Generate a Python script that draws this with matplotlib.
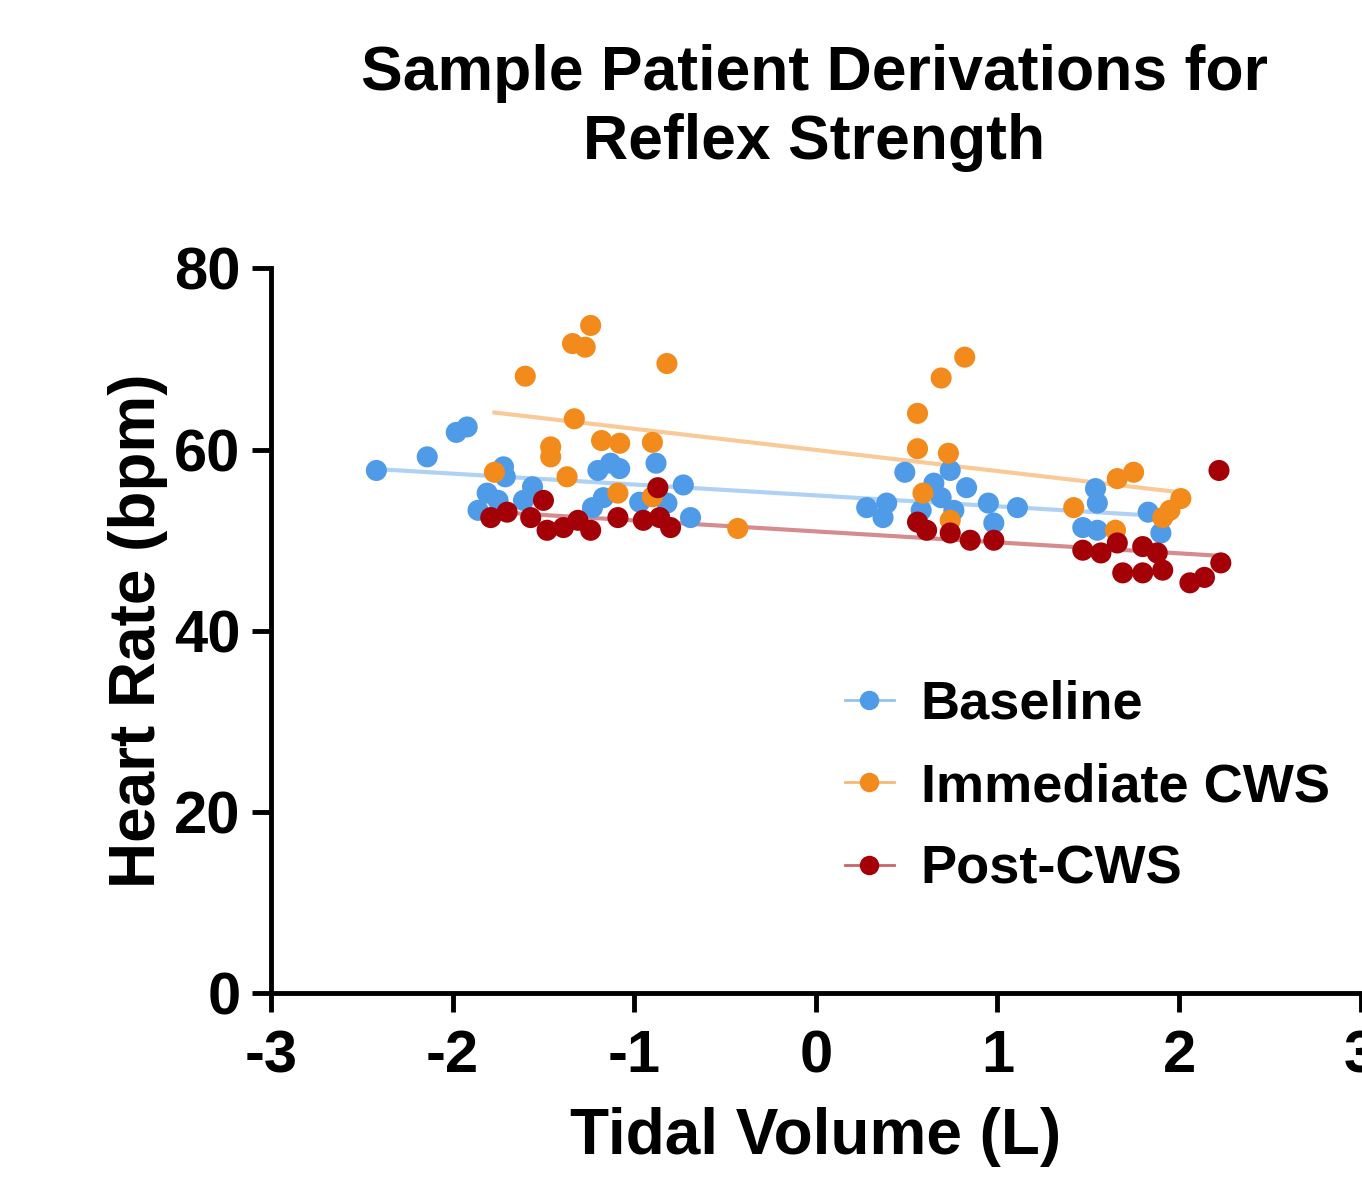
import numpy as np
import matplotlib
matplotlib.use("Agg")
import matplotlib.pyplot as plt
from matplotlib.colors import to_rgba
from matplotlib.ticker import FuncFormatter

plt.rcParams["font.family"] = ["Liberation Sans", "DejaVu Sans"]
plt.rcParams["font.weight"] = "bold"
plt.rcParams["axes.unicode_minus"] = False

# Baseline
base_x = [-2.42, -2.14, -1.98, -1.92, -1.72, -1.71, -1.81, -1.86, -1.75, -1.61,
          -1.56, -1.20, -1.13, -1.08, -0.88, -1.23, -1.17, -0.97, -0.82, -0.73,
          -0.69, 0.49, 0.28, 0.39, 0.37, 0.65, 0.74, 0.83, 0.69, 0.58, 0.76,
          0.95, 0.98, 1.11, 1.54, 1.55, 1.47, 1.55, 1.83, 1.90]
base_y = [57.7, 59.2, 61.9, 62.5, 58.1, 57.0, 55.2, 53.3, 54.4, 54.4,
          55.9, 57.7, 58.5, 57.9, 58.5, 53.6, 54.7, 54.2, 54.1, 56.1,
          52.5, 57.5, 53.6, 54.1, 52.5, 56.3, 57.7, 55.8, 54.7, 53.3, 53.3,
          54.1, 51.9, 53.6, 55.7, 54.1, 51.4, 51.1, 53.1, 50.8]

# Immediate CWS
imm_x = [-1.24, -1.34, -1.27, -0.82, -1.60, -1.33, -1.18, -1.08, -0.90, -1.46,
         -1.46, -1.37, -0.43, -1.09, -0.90, -1.77, 0.82, 0.69, 0.56, 0.56,
         0.73, 0.59, 1.66, 1.75, 2.01, 1.95, 1.42, 1.65, 0.74, 1.91]
imm_y = [73.7, 71.7, 71.3, 69.5, 68.1, 63.4, 61.0, 60.7, 60.8, 60.3,
         59.2, 57.0, 51.3, 55.2, 54.8, 57.5, 70.2, 67.9, 64.0, 60.1,
         59.6, 55.2, 56.8, 57.5, 54.6, 53.3, 53.6, 51.1, 52.2, 52.5]

# Post-CWS
post_x = [-1.79, -1.70, -1.57, -1.50, -1.48, -1.39, -1.31, -1.24, -1.09, -0.95,
          -0.86, -0.80, -0.87, 2.22, 0.61, 0.74, 0.85, 0.98, 0.56, 1.47,
          1.57, 1.66, 1.69, 1.80, 1.88, 1.80, 1.91, 2.06, 2.14, 2.23]
post_y = [52.5, 53.1, 52.5, 54.4, 51.1, 51.4, 52.2, 51.1, 52.5, 52.2,
          52.5, 51.4, 55.8, 57.7, 51.1, 50.8, 50.0, 50.0, 52.0, 48.9,
          48.6, 49.7, 46.4, 49.3, 48.6, 46.4, 46.7, 45.3, 45.9, 47.5]

series = [
    ("Baseline", base_x, base_y, "#4f9be8"),
    ("Immediate CWS", imm_x, imm_y, "#f28a1c"),
    ("Post-CWS", post_x, post_y, "#a30008"),
]

fig = plt.figure(figsize=(13.62, 11.77), dpi=100)
ax = fig.add_axes([0.199, 0.156, 0.8, 0.616])

for name, xs, ys, col in series:
    xs = np.array(xs)
    ys = np.array(ys)
    ax.scatter(xs, ys, s=230, color=col, edgecolors="none", zorder=3)
    # linear fit line over the data range
    k, b = np.polyfit(xs, ys, 1)
    xl = np.array([xs.min(), xs.max()])
    ax.plot(xl, k * xl + b, color=col, lw=3, alpha=0.45, zorder=2)
    ax.plot([], [], color=to_rgba(col, 0.6), lw=2, marker="o", ms=13,
            markerfacecolor=col, markeredgecolor=col, label=name)

ax.set_xlim(-3, 3)
ax.set_ylim(0, 80)
ax.set_xticks([-3, -2, -1, 0, 1, 2, 3])
ax.set_yticks([0, 20, 40, 60, 80])
ax.xaxis.set_major_formatter(FuncFormatter(lambda v, p: f"{int(v)}"))
ax.spines["top"].set_visible(False)
ax.spines["right"].set_visible(False)
for sp in ("left", "bottom"):
    ax.spines[sp].set_linewidth(3.5)
ax.tick_params(axis="both", direction="out", length=14, width=3.5,
               labelsize=43, pad=8)
ax.tick_params(axis="x", pad=12)
for lbl in ax.get_xticklabels() + ax.get_yticklabels():
    lbl.set_fontweight("bold")

ax.set_xlabel("Tidal Volume (L)", fontsize=46, fontweight="bold", labelpad=16)
ax.set_ylabel("Heart Rate (bpm)", fontsize=46, fontweight="bold", labelpad=4)
fig.text(0.598, 0.908, "Sample Patient Derivations for\nReflex Strength",
         ha="center", va="center", fontsize=45, fontweight="bold",
         linespacing=1.22)

leg = ax.legend(loc="upper left", bbox_to_anchor=(0.482, 0.50), frameon=False,
                fontsize=39, handlelength=0.9, handletextpad=0.5,
                labelspacing=0.6)
for t in leg.get_texts():
    t.set_fontweight("bold")

fig.savefig("out.png", dpi=100)
